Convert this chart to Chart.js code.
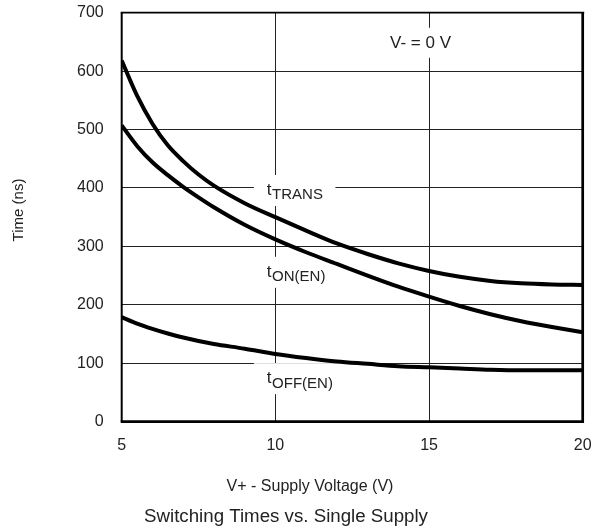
<!DOCTYPE html>
<html lang="en">
<head>
  <meta charset="UTF-8" />
  <title>Switching Times vs. Single Supply</title>
  <script src="https://cdn.jsdelivr.net/npm/chart.js"></script>
  <style>
    html, body { margin: 0; padding: 0; background: #ffffff; }
    #wrap { width: 593px; height: 529px; }
  </style>
</head>
<body>
  <div id="wrap"><canvas id="chart" width="593" height="529"></canvas></div>

  <script>
    // values
    const voltages = [5, 5.5, 6, 6.5, 7, 7.5, 8, 9, 10, 11, 12, 13, 14, 15, 16, 17, 18, 19, 20];
    const tTrans = [618, 558, 510, 473, 446, 423, 404, 374, 350, 327, 305, 287, 271, 258, 248, 241, 237, 235, 234];
    const tOnEn  = [507, 472, 444, 422, 402, 384, 367, 337, 312, 290, 270, 250, 231, 214, 198, 184, 172, 162, 153];
    const tOffEn = [179, 168, 159, 151, 144, 138, 133, 125, 116, 109, 103, 99, 95, 93, 91, 89, 88, 88, 88];
    const xTicks = [5, 10, 15, 20];
    const yTicks = [0, 100, 200, 300, 400, 500, 600, 700];

    const FONT = "'Liberation Sans', Arial, Helvetica, sans-serif";
    const INK = '#222';

    function toPoints(ys) {
      return voltages.map((v, i) => ({ x: v, y: ys[i] }));
    }

    function curve(label, ys) {
      return {
        label: label,
        data: toPoints(ys),
        borderColor: '#000',
        borderWidth: 4,
        pointRadius: 0,
        fill: false,
        cubicInterpolationMode: 'monotone'
      };
    }

    // curve labels: t + subscript, anchored on the gridline at x = 10
    const curveLabels = [
      { main: 't', sub: 'TRANS', x: 10, y: 388, dx: -8.5 },
      { main: 't', sub: 'ON(EN)', x: 10, y: 248, dx: -8.5 },
      { main: 't', sub: 'OFF(EN)', x: 10, y: 66, dx: -8.5 }
    ];

    const annotations = {
      id: 'annotations',
      beforeDatasetsDraw(chart) {
        // white boxes that break the gridlines behind the labels
        const ctx = chart.ctx;
        const xs = chart.scales.x, ys = chart.scales.y;
        ctx.save();
        ctx.fillStyle = '#fff';
        curveLabels.forEach(l => {
          const left = xs.getPixelForValue(l.x) + l.dx;
          const base = ys.getPixelForValue(l.y);
          ctx.font = '17px ' + FONT;
          let w = ctx.measureText(l.main).width;
          ctx.font = '15px ' + FONT;
          w += ctx.measureText(l.sub).width;
          ctx.fillRect(left - 13, base - 20, w + 26, 31);
        });
        const vx = xs.getPixelForValue(15);
        const vy = ys.getPixelForValue(640);
        ctx.font = '17px ' + FONT;
        const vw = ctx.measureText('V- = 0 V').width;
        ctx.fillRect(vx - 39 - 10, vy - 20, vw + 20, 30);
        ctx.restore();
      },
      afterDatasetsDraw(chart) {
        const ctx = chart.ctx;
        const xs = chart.scales.x, ys = chart.scales.y;
        const a = chart.chartArea;
        ctx.save();
        ctx.fillStyle = INK;
        ctx.textBaseline = 'alphabetic';
        ctx.textAlign = 'left';
        curveLabels.forEach(l => {
          const left = xs.getPixelForValue(l.x) + l.dx;
          const base = ys.getPixelForValue(l.y);
          ctx.font = '17px ' + FONT;
          ctx.fillText(l.main, left, base);
          const w = ctx.measureText(l.main).width;
          ctx.font = '15px ' + FONT;
          ctx.fillText(l.sub, left + w + 0.5, base + 4.5);
        });
        ctx.font = '17px ' + FONT;
        ctx.fillText('V- = 0 V', xs.getPixelForValue(15) - 39, ys.getPixelForValue(640));

        // plot frame
        ctx.strokeStyle = '#000';
        ctx.lineWidth = 1.7;
        ctx.beginPath(); ctx.moveTo(a.left - 1, a.top); ctx.lineTo(a.right + 1.5, a.top); ctx.stroke();
        ctx.lineWidth = 2;
        ctx.beginPath(); ctx.moveTo(a.left, a.top); ctx.lineTo(a.left, a.bottom); ctx.stroke();
        ctx.lineWidth = 2.7;
        ctx.beginPath(); ctx.moveTo(a.right, a.top); ctx.lineTo(a.right, a.bottom + 1.3); ctx.stroke();
        ctx.beginPath(); ctx.moveTo(a.left - 1, a.bottom); ctx.lineTo(a.right + 1.3, a.bottom); ctx.stroke();

        // axis titles and caption
        ctx.fillStyle = INK;
        ctx.textAlign = 'center';
        ctx.textBaseline = 'middle';
        ctx.font = '16px ' + FONT;
        ctx.fillText('V+ - Supply Voltage (V)', 310, 487);
        ctx.font = '18.7px ' + FONT;
        ctx.fillText('Switching Times vs. Single Supply', 286, 517);
        ctx.save();
        ctx.translate(18.5, 210);
        ctx.rotate(-Math.PI / 2);
        ctx.font = '15px ' + FONT;
        ctx.fillText('Time (ns)', 0, 0);
        ctx.restore();
        ctx.restore();
      }
    };

    function drawChart() {
      const ctx = document.getElementById('chart').getContext('2d');
      new Chart(ctx, {
        type: 'line',
        data: {
          datasets: [
            curve('tTRANS', tTrans),
            curve('tON(EN)', tOnEn),
            curve('tOFF(EN)', tOffEn)
          ]
        },
        options: {
          responsive: false,
          animation: false,
          layout: { padding: 0 },
          plugins: {
            legend: { display: false },
            tooltip: { enabled: false }
          },
          scales: {
            x: {
              type: 'linear',
              min: 5,
              max: 20,
              afterBuildTicks: s => { s.ticks = xTicks.map(v => ({ value: v })); },
              afterFit: s => { s.height = 107.3; s.paddingLeft = 0; s.paddingRight = 10.3; },
              grid: { color: '#222', lineWidth: 1, drawTicks: false },
              border: { display: false },
              ticks: { color: INK, font: { family: FONT, size: 16 }, padding: 14, maxRotation: 0 }
            },
            y: {
              min: 0,
              max: 700,
              afterBuildTicks: s => { s.ticks = yTicks.map(v => ({ value: v })); },
              afterFit: s => { s.width = 121.7; s.paddingTop = 12.7; s.paddingBottom = 0; },
              grid: { color: '#222', lineWidth: 1, drawTicks: false },
              border: { display: false },
              ticks: { color: INK, font: { family: FONT, size: 16 }, padding: 18 }
            }
          }
        },
        plugins: [annotations]
      });
    }

    window.onload = drawChart;
  </script>
</body>
</html>
